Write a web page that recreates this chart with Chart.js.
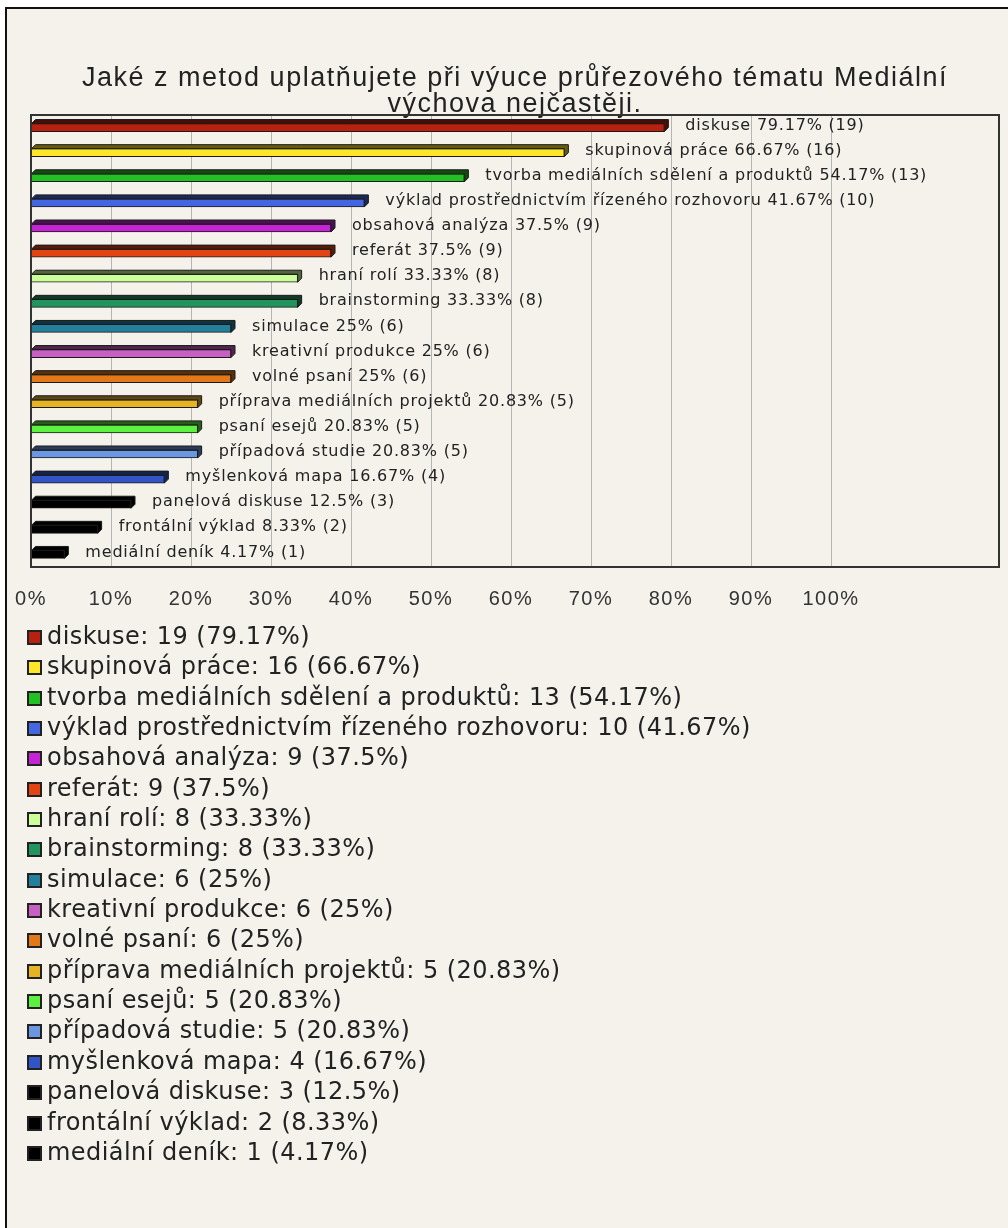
<!DOCTYPE html>
<html>
<head>
<meta charset="utf-8">
<script src="https://cdn.jsdelivr.net/npm/chart.js@4.4.0/dist/chart.umd.min.js"></script>
<style>
  body { margin: 0; background: #fff; }
  #frame {
    position: absolute; left: 5px; top: 7px; width: 1010px; height: 1230px;
    background: #f4f2eb; border-left: 2px solid #111; border-top: 2px solid #111;
  }
  #chart { position: absolute; left: 0; top: 0; }
  #legend {
    position: absolute; left: 27px; top: 621px;
    font-family: "DejaVu Sans", sans-serif; font-size: 24px; letter-spacing: 0.45px; color: #222;
  }
  .item { height: 30.35px; line-height: 30.35px; white-space: nowrap; }
  .sw {
    display: inline-block; width: 11px; height: 11px; border: 2px solid #222;
    margin-right: 5px; vertical-align: -1px;
  }
</style>
</head>
<body>
<div id="frame"></div>
<canvas id="chart" width="1008" height="636"></canvas>
<div id="legend"></div>
<script>
/* ══════════════════════════════════════════════════════════════════════════
   DATA
══════════════════════════════════════════════════════════════════════════ */
const TITLE = [
  "Jaké z metod uplatňujete při výuce průřezového tématu Mediální",
  "výchova nejčastěji.",
];

const categories = [
  "diskuse",
  "skupinová práce",
  "tvorba mediálních sdělení a produktů",
  "výklad prostřednictvím řízeného rozhovoru",
  "obsahová analýza",
  "referát",
  "hraní rolí",
  "brainstorming",
  "simulace",
  "kreativní produkce",
  "volné psaní",
  "příprava mediálních projektů",
  "psaní esejů",
  "případová studie",
  "myšlenková mapa",
  "panelová diskuse",
  "frontální výklad",
  "mediální deník",
];

const counts = [19, 16, 13, 10, 9, 9, 8, 8, 6, 6, 6, 5, 5, 5, 4, 3, 2, 1];

const percents = [
  79.17, 66.67, 54.17, 41.67, 37.5, 37.5, 33.33, 33.33, 25, 25, 25, 20.83,
  20.83, 20.83, 16.67, 12.5, 8.33, 4.17,
];

const barColors = [
  "#b82010", "#ffe628", "#22c022", "#4466e0", "#c424d4", "#e24414",
  "#ccff99", "#22955e", "#22809c", "#c860c4", "#e27818", "#e6b422",
  "#5cf040", "#6a96e2", "#3354c4", "#000000", "#000000", "#000000",
];

/* ══════════════════════════════════════════════════════════════════════════
   HELPERS
══════════════════════════════════════════════════════════════════════════ */
function shade(hex, f) {
  const h = hex.replace("#", "");
  const r = Math.round(parseInt(h.slice(0, 2), 16) * f);
  const g = Math.round(parseInt(h.slice(2, 4), 16) * f);
  const b = Math.round(parseInt(h.slice(4, 6), 16) * f);
  return `rgb(${r},${g},${b})`;
}

const DEPTH = 4;
const SANS = '"Liberation Sans", Arial, sans-serif';

// wider letter spacing for the title and the axis labels
const spacing = {
  id: "spacing",
  beforeDraw(chart) {
    chart.ctx.letterSpacing = "1.5px";
  },
  beforeDatasetsDraw(chart) {
    chart.ctx.letterSpacing = "0px";
  },
};

// top/right faces of the bars, the value labels and the plot frame
const bar3d = {
  id: "bar3d",
  afterDatasetsDraw(chart) {
    const ctx = chart.ctx;
    const meta = chart.getDatasetMeta(0);
    meta.data.forEach((bar, i) => {
      const { x, y, base, height } = bar.getProps(["x", "y", "base", "height"], true);
      const top = y - height / 2;
      const bot = y + height / 2;
      ctx.save();
      ctx.fillStyle = shade(barColors[i], 0.4);
      ctx.strokeStyle = "#1a1a1a";
      ctx.lineWidth = 1;
      ctx.beginPath();
      ctx.moveTo(base, top);
      ctx.lineTo(base + DEPTH, top - DEPTH);
      ctx.lineTo(x + DEPTH, top - DEPTH);
      ctx.lineTo(x + DEPTH, bot - DEPTH);
      ctx.lineTo(x, bot);
      ctx.lineTo(x, top);
      ctx.closePath();
      ctx.fill();
      ctx.stroke();

      ctx.fillStyle = "#222";
      ctx.font = '16px "DejaVu Sans"';
      ctx.letterSpacing = "0.8px";
      ctx.textBaseline = "middle";
      ctx.textAlign = "left";
      ctx.fillText(`${categories[i]} ${percents[i]}% (${counts[i]})`, x + 21, y - 2);
      ctx.restore();
    });

    const a = chart.chartArea;
    ctx.save();
    ctx.strokeStyle = "#333";
    ctx.lineWidth = 2;
    ctx.strokeRect(a.left, a.top, a.right - a.left, a.bottom - a.top);
    ctx.restore();
  },
};

/* ══════════════════════════════════════════════════════════════════════════
   CHART
══════════════════════════════════════════════════════════════════════════ */
new Chart(document.getElementById("chart"), {
  type: "bar",
  data: {
    labels: categories,
    datasets: [
      {
        data: percents,
        backgroundColor: barColors,
        borderColor: "#1a1a1a",
        borderWidth: 1,
        barThickness: 8,
      },
    ],
  },
  options: {
    indexAxis: "y",
    responsive: false,
    animation: false,
    layout: { padding: { left: 31, right: 9, top: 0, bottom: 8 } },
    plugins: {
      legend: { display: false },
      tooltip: { enabled: false },
      title: {
        display: true,
        text: TITLE,
        color: "#222",
        font: { family: SANS, size: 27, weight: "normal", lineHeight: "26px" },
        padding: { top: 66, bottom: -3 },
      },
    },
    scales: {
      x: {
        min: 0,
        max: 121,
        border: { display: false },
        grid: {
          drawTicks: false,
          color: (c) => (c.tick && c.tick.value > 100 ? "rgba(0,0,0,0)" : "#b5b5b5"),
        },
        ticks: {
          stepSize: 10,
          padding: 20,
          color: "#333",
          font: { family: SANS, size: 20 },
          callback: (v) => (v <= 100 && v % 10 === 0 ? v + "%" : ""),
          autoSkip: false,
          maxRotation: 0,
        },
        afterFit(scale) {
          scale.paddingLeft = 0;
          scale.paddingRight = 0;
          scale.height = 61;
        },
      },
      y: { display: false },
    },
  },
  plugins: [spacing, bar3d],
});

/* ══════════════════════════════════════════════════════════════════════════
   LEGEND
══════════════════════════════════════════════════════════════════════════ */
document.getElementById("legend").innerHTML = categories
  .map(
    (c, i) => `
    <div class="item"><span class="sw" style="background:${barColors[i]}"></span>${c}: ${counts[i]} (${percents[i]}%)</div>`,
  )
  .join("");
</script>
</body>
</html>
